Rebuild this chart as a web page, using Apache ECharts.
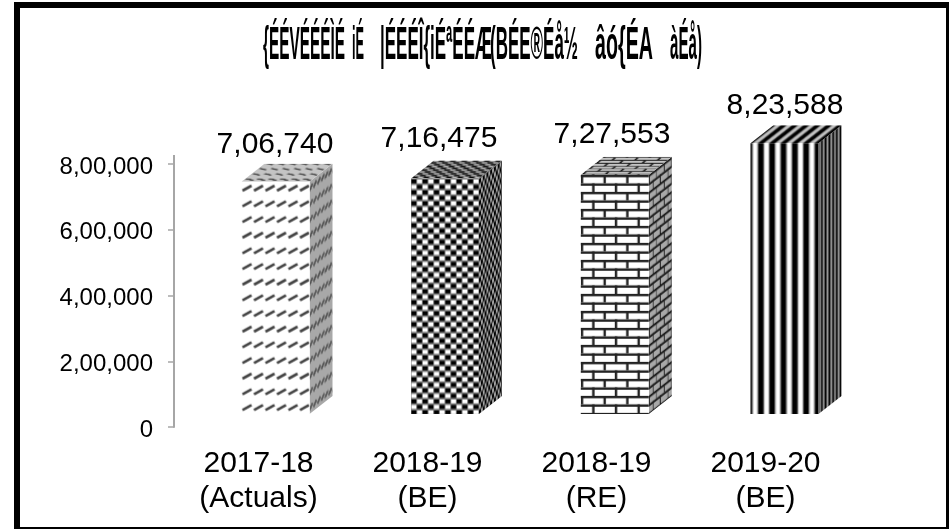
<!DOCTYPE html>
<html>
<head>
<meta charset="utf-8">
<style>
    html, body { margin: 0; padding: 0; background: #fff; }
    #chart { width: 949px; height: 529px; }
</style>
<script src="https://cdn.jsdelivr.net/npm/echarts@6/dist/echarts.min.js"></script>
</head>
<body>
<div id="chart"></div>
<script>
'use strict';

const categories = ['2017-18\n(Actuals)', '2018-19\n(BE)', '2018-19\n(RE)', '2019-20\n(BE)'];
const values = [706740, 716475, 727553, 823588];
const valueLabels = ['7,06,740', '7,16,475', '7,27,553', '8,23,588'];
const yTicks = { 0: '0', 200000: '2,00,000', 400000: '4,00,000', 600000: '6,00,000', 800000: '8,00,000' };

// 标题（原图的旧式印地文字体，按原样保留字符）
const titleParts = ['{ÉÉVÉÉÉÌÉ', 'iÉ', '|ÉÉÉÎ{iÉªÉÉÆ', '(BÉE®Éå½', 'âó{ÉA', 'àÉå)'];
const titleSpans = [[263, 345], [352, 364], [380, 492], [490, 578], [595, 653], [670, 702]];

// 样式
const FONT = '"Liberation Sans", Arial, sans-serif';
const DEPTH_X = 23;
const DEPTH_Y = 18;
const BAR_W = 68;
const BASE_LIFT = 13;
const frontShift = [-17, -16.5, -15.7, -15];
const labelDx = [16.5, 11.5, 15.5, 19.5];
const labelDy = [-37, -40, -40, -38];

function makeCanvas(w, h) {
    const c = document.createElement('canvas');
    c.width = w;
    c.height = h;
    return c;
}

// 四种填充纹理
function dashTile() {
    const c = makeCanvas(23, 47);
    const ctx = c.getContext('2d');
    ctx.fillStyle = '#fff';
    ctx.fillRect(0, 0, 23, 47);
    ctx.strokeStyle = '#444';
    ctx.lineWidth = 2.6;
    for (let r = 0; r < 3; r++) {
        for (let k = -1; k < 3; k++) {
            const x = k * 11.5 + 1;
            const y = 6 + r * 15.67;
            ctx.beginPath();
            ctx.moveTo(x, y + 3);
            ctx.lineTo(x + 9, y - 2);
            ctx.stroke();
        }
    }
    return c;
}

function checkTile() {
    const c = makeCanvas(34, 11);
    const ctx = c.getContext('2d');
    ctx.fillStyle = '#777';
    ctx.fillRect(0, 0, 34, 11);
    const cw = 34 / 6;
    for (let r = 0; r < 2; r++) {
        for (let k = 0; k < 6; k++) {
            ctx.fillStyle = (r + k) % 2 === 0 ? '#000' : '#fff';
            ctx.fillRect(k * cw + 0.5, r * 5.5 + 1, cw - 1, 3.8);
        }
    }
    return c;
}

function brickTile() {
    const c = makeCanvas(68, 34);
    const ctx = c.getContext('2d');
    ctx.fillStyle = '#fff';
    ctx.fillRect(0, 0, 68, 34);
    ctx.fillStyle = '#222';
    const bw = 68 / 3;
    for (let r = 0; r < 4; r++) {
        const y = r * 8.5;
        ctx.fillRect(0, y, 68, 2.4);
        for (let k = -1; k < 4; k++) {
            ctx.fillRect(k * bw + (r % 2 ? bw / 2 : 0), y, 2.4, 8.5);
        }
    }
    return c;
}

function stripeTile() {
    const c = makeCanvas(34, 4);
    const ctx = c.getContext('2d');
    const p = 34 / 3;
    ctx.fillStyle = '#fff';
    ctx.fillRect(0, 0, 34, 4);
    for (let k = -1; k < 3; k++) {
        ctx.fillStyle = '#999';
        ctx.fillRect(k * p + 6.6, 0, 7.5, 4);
        ctx.fillStyle = '#000';
        ctx.fillRect(k * p + 7.8, 0, 5, 4);
    }
    return c;
}

// 把正面纹理投影到侧面 / 顶面，并压暗
function skewFace(tile, w, h, m, shade) {
    const c = makeCanvas(w, h);
    const ctx = c.getContext('2d');
    ctx.setTransform(m[0], m[1], m[2], m[3], m[4], m[5]);
    ctx.fillStyle = ctx.createPattern(tile, 'repeat');
    ctx.fillRect(-800, -800, 1600, 1600);
    ctx.setTransform(1, 0, 0, 1, 0, 0);
    ctx.globalCompositeOperation = 'multiply';
    ctx.fillStyle = shade;
    ctx.fillRect(0, 0, w, h);
    return c;
}

const FOLD = 0.33;
const tiles = [dashTile(), checkTile(), brickTile(), stripeTile()];
const sideFaces = tiles.map(t => skewFace(t, DEPTH_X + 1, 340, [FOLD, -FOLD * DEPTH_Y / DEPTH_X, 0, 1, 0, DEPTH_Y], '#a8a8a8'));
const topFaces = tiles.map(t => skewFace(t, BAR_W + DEPTH_X + 1, DEPTH_Y + 1, [1, 0, FOLD * DEPTH_X / DEPTH_Y, -FOLD, 0, DEPTH_Y], '#c4c4c4'));

function renderBar(params, api) {
    const i = params.dataIndex;
    const center = api.coord([i, 0]);
    const top = api.coord([i, api.value(1)]);
    const x = center[0] + frontShift[i];
    const yBase = center[1] - BASE_LIFT;
    const yTop = top[1] - BASE_LIFT;
    const h = yBase - yTop;

    return {
        type: 'group',
        children: [
            {
                type: 'polygon',
                x: x + BAR_W,
                y: yTop - DEPTH_Y,
                shape: { points: [[0, DEPTH_Y], [DEPTH_X, 0], [DEPTH_X, h], [0, h + DEPTH_Y]] },
                style: { fill: { image: sideFaces[i], repeat: 'no-repeat' } }
            },
            {
                type: 'polygon',
                x: x,
                y: yTop - DEPTH_Y,
                shape: { points: [[0, DEPTH_Y], [DEPTH_X, 0], [BAR_W + DEPTH_X, 0], [BAR_W, DEPTH_Y]] },
                style: { fill: { image: topFaces[i], repeat: 'no-repeat' } }
            },
            {
                type: 'rect',
                x: x,
                y: yTop,
                shape: { x: 0, y: 0, width: BAR_W, height: h },
                style: { fill: { image: tiles[i], repeat: 'repeat' } }
            },
            {
                type: 'text',
                style: {
                    x: center[0] + labelDx[i],
                    y: yTop + labelDy[i],
                    text: valueLabels[i],
                    fill: '#000',
                    font: '30px ' + FONT,
                    align: 'center',
                    verticalAlign: 'middle'
                }
            }
        ]
    };
}

// 按目标宽度压扁标题文字
function titleGraphics() {
    const ctx = makeCanvas(10, 10).getContext('2d');
    const font = 'bold 46px ' + FONT;
    ctx.font = font;
    return titleParts.map((text, i) => {
        const span = titleSpans[i];
        return {
            type: 'text',
            x: span[0],
            y: 46,
            scaleX: (span[1] - span[0]) / ctx.measureText(text).width,
            style: { text: text, font: font, fill: '#000', verticalAlign: 'middle' }
        };
    });
}

const myChart = echarts.init(document.getElementById('chart'), null, { renderer: 'canvas' });

const option = {
    animation: false,
    backgroundColor: '#fff',
    grid: { left: 174, top: 164, width: 676, height: 263 },
    xAxis: {
        type: 'category',
        data: categories,
        axisLine: { show: false },
        axisTick: { show: false },
        axisLabel: { color: '#000', fontFamily: FONT, fontSize: 30, lineHeight: 35, margin: 19, interval: 0 }
    },
    yAxis: {
        type: 'value',
        min: 0,
        max: 800000,
        interval: 200000,
        splitLine: { show: false },
        axisLine: { show: true, lineStyle: { color: '#a6a6a6', width: 2 } },
        axisTick: { show: true, length: 6, lineStyle: { color: '#a6a6a6', width: 1.5 } },
        axisLabel: {
            color: '#000',
            fontFamily: FONT,
            fontSize: 24,
            margin: 21,
            verticalAlign: 'top',
            lineHeight: 6,
            formatter: v => yTicks[v]
        }
    },
    series: [{
        type: 'custom',
        renderItem: renderBar,
        clip: false,
        data: values.map((v, i) => [i, v])
    }],
    graphic: [
        {
            type: 'rect',
            shape: { x: 17, y: 5, width: 932, height: 525 },
            style: { fill: 'none', stroke: '#000', lineWidth: 6 },
            silent: true
        },
        {
            type: 'line',
            shape: { x1: 174, y1: 155, x2: 174, y2: 164 },
            style: { stroke: '#a6a6a6', lineWidth: 2 },
            silent: true
        }
    ].concat(titleGraphics())
};

myChart.setOption(option);
</script>
</body>
</html>
